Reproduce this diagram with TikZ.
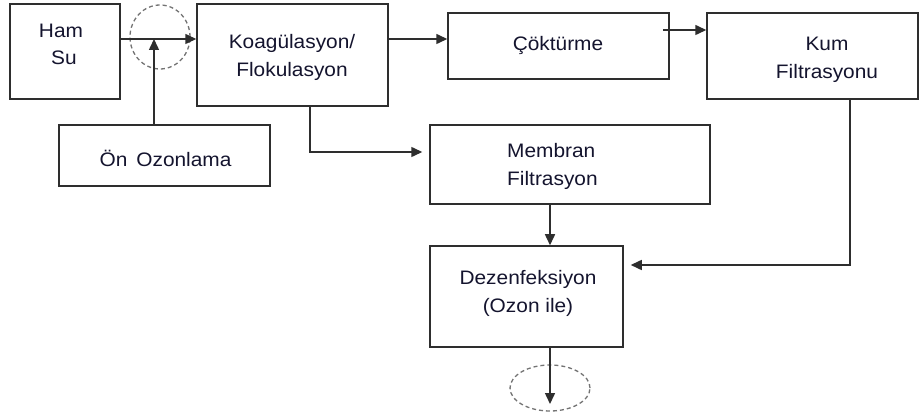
\documentclass[tikz,border=0pt]{standalone}
\usepackage{fontspec}
\setmainfont{Liberation Sans}[FakeStretch=1.07]
\usetikzlibrary{arrows.meta,shapes.geometric}
\definecolor{ink}{rgb}{0.08,0.08,0.18}
\definecolor{lin}{rgb}{0.18,0.18,0.18}
\begin{document}
\begin{tikzpicture}[x=1pt,y=-1pt,
  box/.style={draw=lin, line width=1.5pt, rectangle, inner sep=0pt},
  txt/.style={font=\fontsize{19.5}{28}\selectfont, align=center, text=ink, inner sep=0pt},
  arr/.style={draw=lin, line width=1.5pt, -{Triangle[length=11pt,width=10pt]}},
  dsh/.style={draw=black!55, dash pattern=on 4pt off 3pt, line width=1.3pt, ellipse, inner sep=0pt}]
\useasboundingbox[fill=white] (0,0) rectangle (920,419);

% boxes
\node[box, minimum width=110pt, minimum height=95pt] (ham) at (65,51.5) {};
\node[box, minimum width=191pt, minimum height=102pt] (koag) at (292.5,55) {};
\node[box, minimum width=211pt, minimum height=61pt] (ozon) at (164.5,155.5) {};
\node[box, minimum width=221pt, minimum height=66pt] (cok) at (558.5,46) {};
\node[box, minimum width=211pt, minimum height=86pt] (kum) at (812.5,56) {};
\node[box, minimum width=280pt, minimum height=79pt] (mem) at (570,164.5) {};
\node[box, minimum width=193pt, minimum height=101pt] (dez) at (526.5,296.5) {};

% texts
\node[txt] (hamt) at (61,44) {Ham\\[-1pt]\hspace*{6pt}Su};
\node[txt] (koagt) at (292,57) {Koagülasyon/\\Flokulasyon};
\node[txt] (ozont) at (165.5,158) {Ön\hspace{9pt}Ozonlama};
\node[txt] (cokt) at (558,46) {Çöktürme};
\node[txt] (kumt) at (827,60) {Kum\\Filtrasyonu};
\node[txt, align=left, anchor=west] (memt) at (507,166) {Membran\\Filtrasyon};
\node[txt] (dezt) at (528,293) {Dezenfeksiyon\\(Ozon ile)};

% dashed circles
\node[dsh, minimum width=60pt, minimum height=64pt] (c1) at (160,37) {};
\node[dsh, minimum width=80pt, minimum height=46pt] (c2) at (550,388) {};

% helper coordinates
\coordinate (j) at (154,39);
\coordinate (a2) at (0,39);
\coordinate (a3) at (663,30);
\coordinate (k1) at (310,152);
\coordinate (m1) at (550,0);
\coordinate (r1) at (850,265);
\coordinate (out) at (550,404);

% connectors
\draw[arr] (ham.east |- j) -- (koag.west |- j);
\draw[arr] (ozon.north -| j) -- (j);
\draw[arr] (koag.east |- a2) -- (cok.west |- a2);
\draw[arr] (a3) -- (kum.west |- a3);
\draw[arr, shorten >=7pt] (koag.south -| k1) |- (mem.west |- k1);
\draw[arr] (mem.south -| m1) -- (dez.north -| m1);
\draw[arr, shorten >=7pt] (kum.south -| r1) |- (dez.east |- r1);
\draw[arr] (dez.south -| out) -- (out);
\end{tikzpicture}
\end{document}
